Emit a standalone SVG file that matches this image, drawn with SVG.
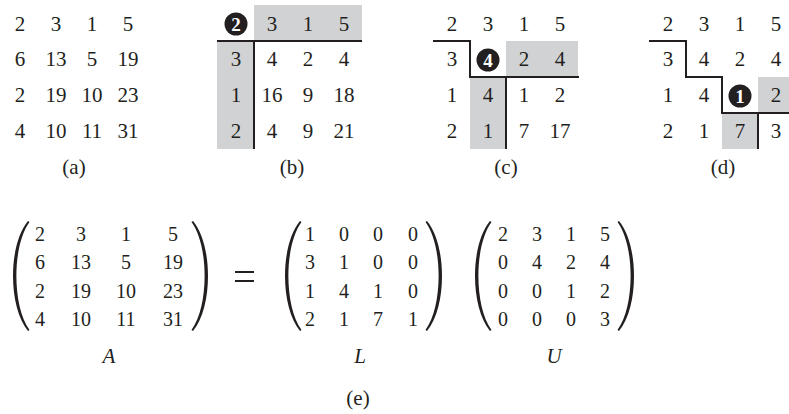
<svg xmlns="http://www.w3.org/2000/svg" width="789" height="414" viewBox="0 0 789 414">
<style>
text{font-family:"Liberation Serif","Times New Roman",serif;fill:#231f20;text-anchor:middle}
.g{font-size:21px}
.m{font-size:20px}
.lab{font-size:21px}
.it{font-size:21px;font-style:italic}
.cn{font-size:19px;font-weight:bold;fill:#fff}
.sh{fill:#d1d2d4}
.ln{stroke:#231f20;stroke-width:2;fill:none}
.cb{fill:#231f20}
.par{fill:#231f20}
</style>
<rect width="789" height="414" fill="#fff"/>

<g id="panel-a" class="g">
<text x="20" y="31">2</text><text x="56" y="31">3</text><text x="92" y="31">1</text><text x="128" y="31">5</text>
<text x="20" y="66">6</text><text x="56" y="66">13</text><text x="92" y="66">5</text><text x="128" y="66">19</text>
<text x="20" y="102">2</text><text x="56" y="102">19</text><text x="92" y="102">10</text><text x="128" y="102">23</text>
<text x="20" y="138">4</text><text x="56" y="138">10</text><text x="92" y="138">11</text><text x="128" y="138">31</text>
<text class="lab" x="74" y="174">(a)</text>
</g>

<g id="panel-b" class="g">
<rect class="sh" x="254" y="5" width="108" height="36"/>
<rect class="sh" x="217" y="41" width="37" height="108"/>
<path class="ln" d="M217 41 H362 M254 41 V149"/>
<circle class="cb" cx="236" cy="24" r="11.5"/>
<text class="cn" x="236" y="30.5">2</text>
<text x="272" y="31">3</text><text x="308" y="31">1</text><text x="344" y="31">5</text>
<text x="236" y="66">3</text><text x="272" y="66">4</text><text x="308" y="66">2</text><text x="344" y="66">4</text>
<text x="236" y="102">1</text><text x="272" y="102">16</text><text x="308" y="102">9</text><text x="344" y="102">18</text>
<text x="236" y="138">2</text><text x="272" y="138">4</text><text x="308" y="138">9</text><text x="344" y="138">21</text>
<text class="lab" x="292" y="174">(b)</text>
</g>

<g id="panel-c" class="g">
<rect class="sh" x="506" y="41" width="72" height="36"/>
<rect class="sh" x="470" y="77" width="36" height="72"/>
<path class="ln" d="M433 41 H470 V77 H579 M506 77 V149"/>
<circle class="cb" cx="488" cy="60" r="11.5"/>
<text class="cn" x="488" y="66.5">4</text>
<text x="452" y="31">2</text><text x="488" y="31">3</text><text x="524" y="31">1</text><text x="560" y="31">5</text>
<text x="452" y="66">3</text><text x="524" y="66">2</text><text x="560" y="66">4</text>
<text x="452" y="102">1</text><text x="488" y="102">4</text><text x="524" y="102">1</text><text x="560" y="102">2</text>
<text x="452" y="138">2</text><text x="488" y="138">1</text><text x="524" y="138">7</text><text x="560" y="138">17</text>
<text class="lab" x="506" y="174">(c)</text>
</g>

<g id="panel-d" class="g">
<rect class="sh" x="758" y="77" width="31" height="36"/>
<rect class="sh" x="722" y="113" width="36" height="36"/>
<path class="ln" d="M649 41 H686 V77 H722 V113 H790 M758 113 V149"/>
<circle class="cb" cx="740" cy="96" r="11.5"/>
<text class="cn" x="740" y="102.5">1</text>
<text x="668" y="31">2</text><text x="704" y="31">3</text><text x="740" y="31">1</text><text x="776" y="31">5</text>
<text x="668" y="66">3</text><text x="704" y="66">4</text><text x="740" y="66">2</text><text x="776" y="66">4</text>
<text x="668" y="102">1</text><text x="704" y="102">4</text><text x="776" y="102">2</text>
<text x="668" y="138">2</text><text x="704" y="138">1</text><text x="740" y="138">7</text><text x="776" y="138">3</text>
<text class="lab" x="723" y="174">(d)</text>
</g>

<g id="matrix-A" class="m">
<path class="par" d="M28 221 C8 245 8 307 28 331 L29.5 330 C12 306 12 246 29.5 222 Z"/>
<path class="par" d="M193 221 C213 245 213 307 193 331 L191.5 330 C209 306 209 246 191.5 222 Z"/>
<text x="40" y="241">2</text><text x="81" y="241">3</text><text x="126" y="241">1</text><text x="173" y="241">5</text>
<text x="40" y="269">6</text><text x="81" y="269">13</text><text x="126" y="269">5</text><text x="173" y="269">19</text>
<text x="40" y="298">2</text><text x="81" y="298">19</text><text x="126" y="298">10</text><text x="173" y="298">23</text>
<text x="40" y="326">4</text><text x="81" y="326">10</text><text x="126" y="326">11</text><text x="173" y="326">31</text>
<text class="it" x="109" y="363">A</text>
</g>

<g id="equals">
<path class="ln" d="M235 272 H254 M235 281 H254" stroke-width="1.3"/>
</g>

<g id="matrix-L" class="m">
<path class="par" d="M300 221 C280 245 280 307 300 331 L301.5 330 C284 306 284 246 301.5 222 Z"/>
<path class="par" d="M427 221 C447 245 447 307 427 331 L425.5 330 C443 306 443 246 425.5 222 Z"/>
<text x="310" y="241">1</text><text x="344" y="241">0</text><text x="378" y="241">0</text><text x="413" y="241">0</text>
<text x="310" y="269">3</text><text x="344" y="269">1</text><text x="378" y="269">0</text><text x="413" y="269">0</text>
<text x="310" y="298">1</text><text x="344" y="298">4</text><text x="378" y="298">1</text><text x="413" y="298">0</text>
<text x="310" y="326">2</text><text x="344" y="326">1</text><text x="378" y="326">7</text><text x="413" y="326">1</text>
<text class="it" x="360" y="363">L</text>
</g>

<g id="matrix-U" class="m">
<path class="par" d="M490 221 C470 245 470 307 490 331 L491.5 330 C474 306 474 246 491.5 222 Z"/>
<path class="par" d="M619 221 C639 245 639 307 619 331 L617.5 330 C635 306 635 246 617.5 222 Z"/>
<text x="503" y="241">2</text><text x="537" y="241">3</text><text x="571" y="241">1</text><text x="605" y="241">5</text>
<text x="503" y="269">0</text><text x="537" y="269">4</text><text x="571" y="269">2</text><text x="605" y="269">4</text>
<text x="503" y="298">0</text><text x="537" y="298">0</text><text x="571" y="298">1</text><text x="605" y="298">2</text>
<text x="503" y="326">0</text><text x="537" y="326">0</text><text x="571" y="326">0</text><text x="605" y="326">3</text>
<text class="it" x="554" y="363">U</text>
</g>

<text class="lab" x="358" y="405">(e)</text>
</svg>
